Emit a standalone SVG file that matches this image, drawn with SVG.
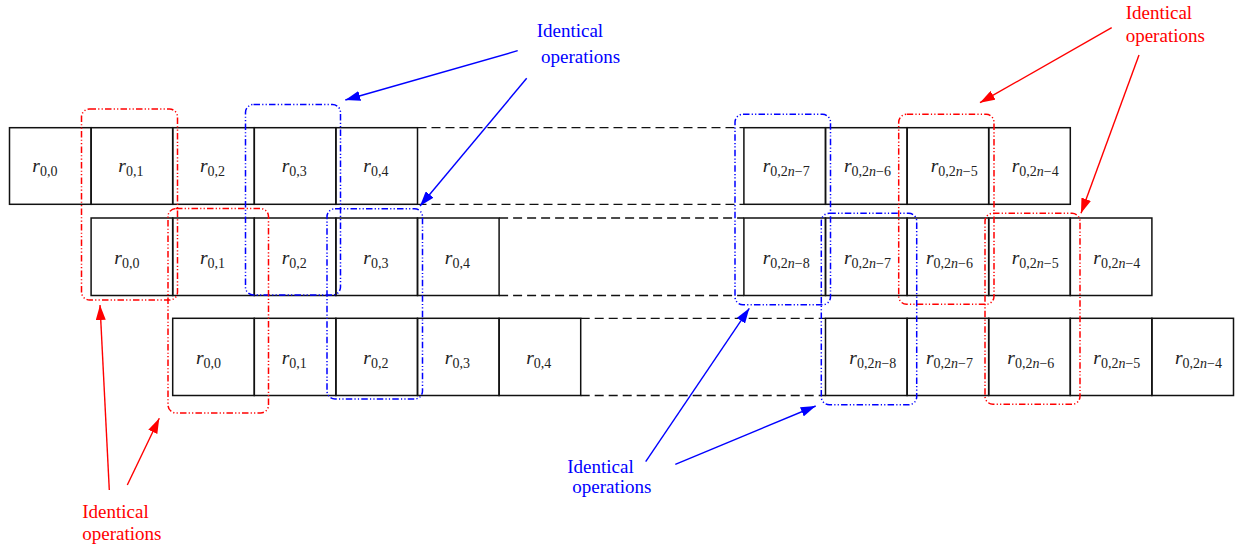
<svg xmlns="http://www.w3.org/2000/svg" width="1243" height="546" viewBox="0 0 1243 546">
<defs>
<style>
.cell rect{fill:none;stroke:#111;stroke-width:1.5}
.lbl{font-family:"Liberation Serif",serif;fill:#222}
.lbl .r{font-style:italic;font-size:19.5px}
.lbl .s{font-size:14px}
.lbl .i{font-style:italic}
.dash{stroke:#111;stroke-width:1.3;stroke-dasharray:9 5;fill:none}
.grp rect{fill:none;stroke-width:1.5;stroke-dasharray:6.5 2.2 1.2 2.2 1.2 2.2}
.red rect{stroke:#ff0000}
.blue rect{stroke:#0000ff}
.ar{fill:none;stroke-width:1.4}
.ar.red{stroke:#ff0000}
.ar.blue{stroke:#0000ff}
.note{font-family:"Liberation Serif",serif;font-size:19px}
.note.red{fill:#ff0000}
.note.blue{fill:#0000ff}
</style>
<marker id="ahR" markerUnits="userSpaceOnUse" markerWidth="15" markerHeight="10" refX="15" refY="5" orient="auto"><path d="M0,0 L15,5 L0,10 z" fill="#ff0000"/></marker>
<marker id="ahB" markerUnits="userSpaceOnUse" markerWidth="15" markerHeight="10" refX="15" refY="5" orient="auto"><path d="M0,0 L15,5 L0,10 z" fill="#0000ff"/></marker>
</defs>
<rect width="1243" height="546" fill="#fff"/>

<!-- Row 1 -->
<g id="row1">
<g id="r1c0" class="cell"><rect x="9.5" y="127.7" width="81.6" height="76.6"/><text class="lbl" x="32.3" y="172.3"><tspan class="r">r</tspan><tspan class="s" dy="4">0,0</tspan></text></g>
<g id="r1c1" class="cell"><rect x="91.1" y="127.7" width="81.6" height="76.6"/><text class="lbl" x="118.3" y="172.3"><tspan class="r">r</tspan><tspan class="s" dy="4">0,1</tspan></text></g>
<g id="r1c2" class="cell"><rect x="172.7" y="127.7" width="81.6" height="76.6"/><text class="lbl" x="200" y="172.3"><tspan class="r">r</tspan><tspan class="s" dy="4">0,2</tspan></text></g>
<g id="r1c3" class="cell"><rect x="254.3" y="127.7" width="81.6" height="76.6"/><text class="lbl" x="281.7" y="172.3"><tspan class="r">r</tspan><tspan class="s" dy="4">0,3</tspan></text></g>
<g id="r1c4" class="cell"><rect x="335.9" y="127.7" width="81.6" height="76.6"/><text class="lbl" x="363.3" y="172.3"><tspan class="r">r</tspan><tspan class="s" dy="4">0,4</tspan></text></g>
<g id="r1c9" class="cell"><rect x="743.9" y="127.7" width="81.6" height="76.6"/><text class="lbl" x="762.7" y="172.3"><tspan class="r">r</tspan><tspan class="s" dy="4">0,2</tspan><tspan class="s i">n</tspan><tspan class="s">−7</tspan></text></g>
<g id="r1c10" class="cell"><rect x="825.5" y="127.7" width="81.6" height="76.6"/><text class="lbl" x="844" y="172.3"><tspan class="r">r</tspan><tspan class="s" dy="4">0,2</tspan><tspan class="s i">n</tspan><tspan class="s">−6</tspan></text></g>
<g id="r1c11" class="cell"><rect x="907.1" y="127.7" width="81.6" height="76.6"/><text class="lbl" x="930.7" y="172.3"><tspan class="r">r</tspan><tspan class="s" dy="4">0,2</tspan><tspan class="s i">n</tspan><tspan class="s">−5</tspan></text></g>
<g id="r1c12" class="cell"><rect x="988.7" y="127.7" width="81.6" height="76.6"/><text class="lbl" x="1011.7" y="172.3"><tspan class="r">r</tspan><tspan class="s" dy="4">0,2</tspan><tspan class="s i">n</tspan><tspan class="s">−4</tspan></text></g>
</g>

<!-- Row 2 -->
<g id="row2">
<g id="r2c1" class="cell"><rect x="91.1" y="218" width="81.6" height="77.5"/><text class="lbl" x="114.3" y="264"><tspan class="r">r</tspan><tspan class="s" dy="4">0,0</tspan></text></g>
<g id="r2c2" class="cell"><rect x="172.7" y="218" width="81.6" height="77.5"/><text class="lbl" x="200" y="264"><tspan class="r">r</tspan><tspan class="s" dy="4">0,1</tspan></text></g>
<g id="r2c3" class="cell"><rect x="254.3" y="218" width="81.6" height="77.5"/><text class="lbl" x="281.7" y="264"><tspan class="r">r</tspan><tspan class="s" dy="4">0,2</tspan></text></g>
<g id="r2c4" class="cell"><rect x="335.9" y="218" width="81.6" height="77.5"/><text class="lbl" x="363.3" y="264"><tspan class="r">r</tspan><tspan class="s" dy="4">0,3</tspan></text></g>
<g id="r2c5" class="cell"><rect x="417.5" y="218" width="81.6" height="77.5"/><text class="lbl" x="444.8" y="264"><tspan class="r">r</tspan><tspan class="s" dy="4">0,4</tspan></text></g>
<g id="r2c9" class="cell"><rect x="743.9" y="218" width="81.6" height="77.5"/><text class="lbl" x="762.7" y="264"><tspan class="r">r</tspan><tspan class="s" dy="4">0,2</tspan><tspan class="s i">n</tspan><tspan class="s">−8</tspan></text></g>
<g id="r2c10" class="cell"><rect x="825.5" y="218" width="81.6" height="77.5"/><text class="lbl" x="844" y="264"><tspan class="r">r</tspan><tspan class="s" dy="4">0,2</tspan><tspan class="s i">n</tspan><tspan class="s">−7</tspan></text></g>
<g id="r2c11" class="cell"><rect x="907.1" y="218" width="81.6" height="77.5"/><text class="lbl" x="926" y="264"><tspan class="r">r</tspan><tspan class="s" dy="4">0,2</tspan><tspan class="s i">n</tspan><tspan class="s">−6</tspan></text></g>
<g id="r2c12" class="cell"><rect x="988.7" y="218" width="81.6" height="77.5"/><text class="lbl" x="1011.7" y="264"><tspan class="r">r</tspan><tspan class="s" dy="4">0,2</tspan><tspan class="s i">n</tspan><tspan class="s">−5</tspan></text></g>
<g id="r2c13" class="cell"><rect x="1070.3" y="218" width="81.6" height="77.5"/><text class="lbl" x="1093.3" y="264"><tspan class="r">r</tspan><tspan class="s" dy="4">0,2</tspan><tspan class="s i">n</tspan><tspan class="s">−4</tspan></text></g>
</g>

<!-- Row 3 -->
<g id="row3">
<g id="r3c2" class="cell"><rect x="172.7" y="318.3" width="81.6" height="77.2"/><text class="lbl" x="196" y="364"><tspan class="r">r</tspan><tspan class="s" dy="4">0,0</tspan></text></g>
<g id="r3c3" class="cell"><rect x="254.3" y="318.3" width="81.6" height="77.2"/><text class="lbl" x="281.7" y="364"><tspan class="r">r</tspan><tspan class="s" dy="4">0,1</tspan></text></g>
<g id="r3c4" class="cell"><rect x="335.9" y="318.3" width="81.6" height="77.2"/><text class="lbl" x="363.3" y="364"><tspan class="r">r</tspan><tspan class="s" dy="4">0,2</tspan></text></g>
<g id="r3c5" class="cell"><rect x="417.5" y="318.3" width="81.6" height="77.2"/><text class="lbl" x="444.8" y="364"><tspan class="r">r</tspan><tspan class="s" dy="4">0,3</tspan></text></g>
<g id="r3c6" class="cell"><rect x="499.1" y="318.3" width="81.6" height="77.2"/><text class="lbl" x="526.2" y="364"><tspan class="r">r</tspan><tspan class="s" dy="4">0,4</tspan></text></g>
<g id="r3c10" class="cell"><rect x="825.5" y="318.3" width="81.6" height="77.2"/><text class="lbl" x="849.3" y="364"><tspan class="r">r</tspan><tspan class="s" dy="4">0,2</tspan><tspan class="s i">n</tspan><tspan class="s">−8</tspan></text></g>
<g id="r3c11" class="cell"><rect x="907.1" y="318.3" width="81.6" height="77.2"/><text class="lbl" x="926" y="364"><tspan class="r">r</tspan><tspan class="s" dy="4">0,2</tspan><tspan class="s i">n</tspan><tspan class="s">−7</tspan></text></g>
<g id="r3c12" class="cell"><rect x="988.7" y="318.3" width="81.6" height="77.2"/><text class="lbl" x="1007.3" y="364"><tspan class="r">r</tspan><tspan class="s" dy="4">0,2</tspan><tspan class="s i">n</tspan><tspan class="s">−6</tspan></text></g>
<g id="r3c13" class="cell"><rect x="1070.3" y="318.3" width="81.6" height="77.2"/><text class="lbl" x="1093.3" y="364"><tspan class="r">r</tspan><tspan class="s" dy="4">0,2</tspan><tspan class="s i">n</tspan><tspan class="s">−5</tspan></text></g>
<g id="r3c14" class="cell"><rect x="1151.9" y="318.3" width="81.6" height="77.2"/><text class="lbl" x="1175" y="364"><tspan class="r">r</tspan><tspan class="s" dy="4">0,2</tspan><tspan class="s i">n</tspan><tspan class="s">−4</tspan></text></g>
</g>

<!-- Dashed continuation lines -->
<g id="continuations">
<line class="dash" x1="417.5" y1="127.7" x2="743.9" y2="127.7"/>
<line class="dash" x1="417.5" y1="204.3" x2="743.9" y2="204.3"/>
<line class="dash" x1="499.1" y1="218" x2="743.9" y2="218"/>
<line class="dash" x1="499.1" y1="295.5" x2="743.9" y2="295.5"/>
<line class="dash" x1="580.7" y1="318.3" x2="825.5" y2="318.3"/>
<line class="dash" x1="580.7" y1="395.5" x2="825.5" y2="395.5"/>
</g>

<!-- Grouping boxes -->
<g id="box-red1" class="grp red"><rect x="81.5" y="109" width="96" height="191" rx="8"/></g>
<g id="box-blue1" class="grp blue"><rect x="245.5" y="104.5" width="95" height="190.5" rx="8"/></g>
<g id="box-red2" class="grp red"><rect x="168" y="208.5" width="100.5" height="204.5" rx="8"/></g>
<g id="box-blue2" class="grp blue"><rect x="327" y="208.7" width="95.5" height="190.3" rx="8"/></g>
<g id="box-blue3" class="grp blue"><rect x="735" y="114.3" width="95.5" height="190.5" rx="8"/></g>
<g id="box-red3" class="grp red"><rect x="898.7" y="114.3" width="95.3" height="190" rx="8"/></g>
<g id="box-blue4" class="grp blue"><rect x="821.3" y="213.3" width="95.4" height="191.5" rx="8"/></g>
<g id="box-red4" class="grp red"><rect x="985" y="213.3" width="95" height="191" rx="8"/></g>

<!-- Notes -->
<g id="note-blue-top"><text class="note blue" x="536.7" y="36.7">Identical</text><text class="note blue" x="541" y="63.3">operations</text></g>
<g id="note-red-top"><text class="note red" x="1125.7" y="19">Identical</text><text class="note red" x="1125.7" y="41.7">operations</text></g>
<g id="note-red-bottom"><text class="note red" x="82.3" y="518.3">Identical</text><text class="note red" x="82.3" y="540">operations</text></g>
<g id="note-blue-bottom"><text class="note blue" x="567.3" y="472.7">Identical</text><text class="note blue" x="572.3" y="493.3">operations</text></g>

<!-- Arrows -->
<g id="connectors">
<line class="ar blue" x1="517.7" y1="50.7" x2="345.3" y2="100" marker-end="url(#ahB)"/>
<line class="ar blue" x1="526.7" y1="78.3" x2="420" y2="206" marker-end="url(#ahB)"/>
<line class="ar red" x1="1111.7" y1="27.7" x2="980" y2="102.7" marker-end="url(#ahR)"/>
<line class="ar red" x1="1139" y1="55" x2="1081" y2="213.3" marker-end="url(#ahR)"/>
<line class="ar red" x1="109.3" y1="490" x2="100" y2="305" marker-end="url(#ahR)"/>
<line class="ar red" x1="127.3" y1="485" x2="159.3" y2="418.3" marker-end="url(#ahR)"/>
<line class="ar blue" x1="645.7" y1="461.7" x2="749.3" y2="308.3" marker-end="url(#ahB)"/>
<line class="ar blue" x1="675.3" y1="464.3" x2="815.7" y2="406" marker-end="url(#ahB)"/>
</g>
</svg>
